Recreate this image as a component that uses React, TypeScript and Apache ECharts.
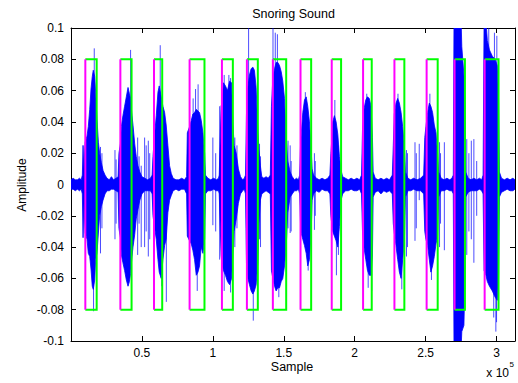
import React, { useEffect, useRef } from "react";
import * as echarts from "echarts";

// Signal envelope: [sample (x1e5), upper amplitude, lower amplitude]
const ENVELOPE: [number, number, number][] = [
  [0.000, 0.003, -0.003], [0.015, 0.004, -0.003], [0.030, 0.003, -0.004], [0.045, 0.003, -0.003],
  [0.060, 0.004, -0.004], [0.072, 0.003, -0.003],
  // burst 1
  [0.080, 0.006, -0.006], [0.085, 0.025, -0.034], [0.090, 0.010, -0.012], [0.100, 0.027, -0.031],
  [0.113, 0.031, -0.035], [0.122, 0.037, -0.044], [0.132, 0.048, -0.046], [0.141, 0.061, -0.054],
  [0.150, 0.069, -0.065], [0.157, 0.073, -0.067], [0.167, 0.069, -0.061], [0.174, 0.059, -0.048],
  [0.183, 0.042, -0.044], [0.193, 0.027, -0.031], [0.202, 0.020, -0.020], [0.214, 0.014, -0.014],
  [0.226, 0.009, -0.010], [0.240, 0.006, -0.006], [0.254, 0.004, -0.004],
  [0.270, 0.003, -0.004], [0.285, 0.005, -0.003], [0.300, 0.003, -0.003], [0.318, 0.004, -0.004],
  // burst 2
  [0.332, 0.005, -0.005], [0.338, 0.020, -0.028], [0.348, 0.026, -0.034], [0.355, 0.037, -0.045],
  [0.366, 0.044, -0.050], [0.378, 0.050, -0.055], [0.390, 0.056, -0.061], [0.402, 0.062, -0.065],
  [0.412, 0.058, -0.062], [0.420, 0.055, -0.057], [0.428, 0.046, -0.048], [0.437, 0.038, -0.040],
  [0.449, 0.026, -0.032], [0.460, 0.018, -0.022], [0.472, 0.012, -0.016], [0.485, 0.008, -0.010],
  [0.500, 0.005, -0.006], [0.520, 0.004, -0.004], [0.540, 0.003, -0.004], [0.560, 0.004, -0.004],
  // burst 3
  [0.572, 0.006, -0.006], [0.578, 0.018, -0.020], [0.589, 0.031, -0.027], [0.601, 0.044, -0.035],
  [0.613, 0.059, -0.048], [0.622, 0.063, -0.056], [0.636, 0.056, -0.060], [0.648, 0.050, -0.048],
  [0.660, 0.046, -0.039], [0.671, 0.038, -0.035], [0.683, 0.025, -0.018], [0.695, 0.012, -0.010],
  [0.707, 0.007, -0.007], [0.720, 0.004, -0.004],
  [0.740, 0.003, -0.003], [0.760, 0.003, -0.004], [0.780, 0.004, -0.003], [0.800, 0.003, -0.003],
  // burst 4
  [0.815, 0.005, -0.006], [0.820, 0.033, -0.033], [0.836, 0.037, -0.036], [0.848, 0.041, -0.038],
  [0.859, 0.045, -0.042], [0.871, 0.046, -0.048], [0.883, 0.048, -0.058], [0.895, 0.047, -0.056],
  [0.906, 0.046, -0.052], [0.918, 0.041, -0.040], [0.930, 0.033, -0.044], [0.942, 0.020, -0.035],
  [0.948, 0.006, -0.006],
  [0.965, 0.004, -0.004], [0.985, 0.003, -0.004], [1.005, 0.004, -0.003], [1.025, 0.003, -0.004],
  [1.040, 0.004, -0.004],
  // burst 5
  [1.045, 0.006, -0.006], [1.058, 0.050, -0.045], [1.064, 0.052, -0.050], [1.075, 0.065, -0.055],
  [1.089, 0.063, -0.058], [1.103, 0.060, -0.062], [1.118, 0.066, -0.064], [1.132, 0.065, -0.060],
  [1.141, 0.040, -0.045], [1.150, 0.025, -0.030], [1.165, 0.020, -0.022], [1.180, 0.010, -0.012],
  [1.195, 0.005, -0.006],
  [1.210, 0.003, -0.004], [1.222, 0.004, -0.003],
  // burst 6
  [1.230, 0.006, -0.006], [1.237, 0.045, -0.050], [1.247, 0.062, -0.060], [1.258, 0.070, -0.064],
  [1.270, 0.074, -0.068], [1.282, 0.075, -0.070], [1.293, 0.073, -0.068], [1.305, 0.062, -0.064],
  [1.317, 0.035, -0.050], [1.325, 0.022, -0.025], [1.335, 0.012, -0.010], [1.345, 0.005, -0.006],
  [1.360, 0.004, -0.005], [1.375, 0.005, -0.004], [1.390, 0.004, -0.005],
  // burst 7
  [1.405, 0.006, -0.006], [1.413, 0.050, -0.055], [1.423, 0.068, -0.060], [1.435, 0.074, -0.065],
  [1.446, 0.078, -0.068], [1.458, 0.078, -0.066], [1.470, 0.076, -0.066], [1.482, 0.072, -0.062],
  [1.493, 0.066, -0.060], [1.505, 0.055, -0.052], [1.517, 0.030, -0.040], [1.528, 0.015, -0.018],
  [1.545, 0.008, -0.008], [1.560, 0.005, -0.006],
  [1.575, 0.003, -0.004], [1.590, 0.004, -0.004], [1.603, 0.003, -0.003],
  // burst 8
  [1.612, 0.006, -0.006], [1.618, 0.025, -0.025], [1.622, 0.031, -0.031], [1.634, 0.046, -0.035],
  [1.646, 0.054, -0.039], [1.658, 0.056, -0.044], [1.669, 0.050, -0.052], [1.681, 0.040, -0.048],
  [1.693, 0.022, -0.031], [1.700, 0.010, -0.010], [1.710, 0.006, -0.006],
  [1.730, 0.004, -0.004], [1.750, 0.003, -0.005], [1.770, 0.004, -0.003], [1.790, 0.003, -0.004],
  [1.810, 0.004, -0.004],
  // burst 9
  [1.825, 0.006, -0.006], [1.832, 0.020, -0.020], [1.838, 0.028, -0.025], [1.845, 0.040, -0.030],
  [1.857, 0.044, -0.033], [1.869, 0.040, -0.036], [1.881, 0.032, -0.040], [1.892, 0.018, -0.027],
  [1.904, 0.009, -0.010], [1.915, 0.005, -0.006],
  [1.935, 0.004, -0.004], [1.955, 0.003, -0.004], [1.975, 0.004, -0.003], [1.995, 0.003, -0.004],
  [2.015, 0.004, -0.004], [2.035, 0.003, -0.003],
  // burst 10
  [2.048, 0.006, -0.006], [2.055, 0.035, -0.030], [2.065, 0.048, -0.040], [2.078, 0.054, -0.048],
  [2.090, 0.056, -0.055], [2.103, 0.055, -0.058], [2.115, 0.050, -0.058], [2.125, 0.030, -0.045],
  [2.130, 0.008, -0.008],
  [2.145, 0.004, -0.005], [2.165, 0.003, -0.004], [2.185, 0.004, -0.006], [2.205, 0.003, -0.004],
  [2.225, 0.004, -0.005], [2.245, 0.003, -0.004],
  // burst 11
  [2.265, 0.006, -0.006], [2.272, 0.025, -0.025], [2.279, 0.045, -0.031], [2.291, 0.052, -0.039],
  [2.303, 0.055, -0.048], [2.315, 0.052, -0.056], [2.327, 0.046, -0.060], [2.338, 0.037, -0.048],
  [2.350, 0.025, -0.037], [2.358, 0.008, -0.008],
  [2.375, 0.004, -0.004], [2.395, 0.003, -0.004], [2.415, 0.004, -0.003], [2.440, 0.003, -0.004],
  [2.465, 0.004, -0.004],
  // burst 12
  [2.486, 0.006, -0.006], [2.494, 0.030, -0.030], [2.502, 0.037, -0.035], [2.514, 0.046, -0.039],
  [2.526, 0.052, -0.048], [2.537, 0.050, -0.056], [2.549, 0.046, -0.052], [2.561, 0.038, -0.046],
  [2.573, 0.033, -0.038], [2.584, 0.020, -0.033], [2.592, 0.008, -0.008],
  [2.610, 0.004, -0.004], [2.630, 0.003, -0.004], [2.650, 0.004, -0.003], [2.670, 0.003, -0.004],
  [2.685, 0.004, -0.004],
  // burst 13
  [2.695, 0.006, -0.006], [2.700, 0.105, -0.105], [2.750, 0.105, -0.105], [2.755, 0.088, -0.094],
  [2.770, 0.070, -0.090], [2.777, 0.050, -0.060], [2.782, 0.008, -0.008],
  [2.800, 0.004, -0.005], [2.820, 0.003, -0.004], [2.840, 0.004, -0.004], [2.860, 0.003, -0.004],
  [2.880, 0.004, -0.003], [2.895, 0.003, -0.004],
  // burst 14
  [2.905, 0.006, -0.006], [2.912, 0.105, -0.055], [2.925, 0.105, -0.058], [2.935, 0.092, -0.062],
  [2.950, 0.086, -0.065], [2.970, 0.082, -0.068], [2.990, 0.080, -0.072], [3.005, 0.076, -0.074],
  [3.014, 0.055, -0.060], [3.020, 0.008, -0.008],
  [3.035, 0.004, -0.005], [3.055, 0.003, -0.004], [3.075, 0.004, -0.003], [3.095, 0.003, -0.004],
  [3.115, 0.004, -0.004], [3.130, 0.003, -0.003],
];

// Isolated spikes: [sample (x1e5), top, bottom]
const SPIKES: [number, number, number][] = [
  [0.159, 0, -0.081], [0.164, 0.087, 0], [0.208, 0.024, -0.044], [0.218, 0.020, -0.028],
  [0.310, 0.022, -0.035], [0.318, 0.016, -0.025],
  [0.420, 0.086, 0], [0.470, 0.030, -0.045], [0.480, 0.018, -0.025], [0.495, 0.012, -0.040],
  [0.519, 0.030, -0.040], [0.530, 0.025, -0.030], [0.545, 0.028, -0.046], [0.555, 0.020, -0.035],
  [0.629, 0.089, 0], [0.640, 0, -0.065], [0.672, 0, -0.075],
  [0.861, 0.055, 0], [0.878, 0.061, 0], [0.896, 0.064, 0], [0.890, 0, -0.068], [0.940, 0.010, -0.042],
  [1.000, 0.030, -0.026], [1.020, 0.020, -0.030], [1.048, 0.050, -0.048],
  [1.080, 0.070, -0.068], [1.113, 0.070, 0], [1.125, 0.068, -0.069], [1.155, 0.030, -0.040], [1.170, 0.025, -0.028],
  [1.252, 0.105, 0], [1.285, 0, -0.087], [1.329, 0.026, -0.035], [1.336, 0.018, -0.040],
  [1.424, 0.105, 0], [1.440, 0.097, 0], [1.455, 0.096, 0], [1.465, 0, -0.072],
  [1.530, 0.028, -0.028], [1.545, 0.025, -0.031], [1.552, 0.015, -0.030],
  [1.652, 0.059, 0], [1.672, 0, -0.055], [1.716, 0.020, -0.029], [1.722, 0.015, -0.020],
  [1.860, 0.054, 0], [1.871, 0, -0.058], [1.885, 0.025, -0.045],
  [2.085, 0.058, 0], [2.095, 0, -0.066], [2.120, 0, -0.068],
  [2.305, 0.058, 0], [2.332, 0, -0.067], [2.365, 0.022, -0.046], [2.372, 0.020, -0.040],
  [2.425, 0.027, -0.036], [2.434, 0.020, -0.028], [2.455, 0.026, -0.010],
  [2.530, 0.058, 0], [2.541, 0, -0.061], [2.598, 0.027, -0.040], [2.605, 0.020, -0.025],
  [2.632, 0.027, -0.042],
  [2.790, 0.029, -0.045], [2.805, 0.020, -0.030], [2.822, 0.028, -0.035], [2.840, 0.029, -0.050],
  [2.860, 0.015, -0.020],
  [2.945, 0.105, 0], [2.985, 0.097, 0], [3.002, 0.095, 0], [2.980, 0, -0.085], [2.995, 0, -0.094],
  [3.000, 0, -0.088],
];

// Detected snore segments (start / end, x1e5 samples)
const SEGMENT_STARTS = [0.101, 0.348, 0.585, 0.836, 1.064, 1.240, 1.423, 1.618, 1.838, 2.059, 2.280, 2.507, 2.704, 2.916];
const SEGMENT_ENDS = [0.181, 0.427, 0.643, 0.941, 1.141, 1.317, 1.517, 1.693, 1.904, 2.120, 2.350, 2.585, 2.777, 3.014];
const SEGMENT_LEVEL = 0.08;

const X_MIN = 0;
const X_MAX = 3.13;
const X_STEP = 0.5;
const Y_MIN = -0.1;
const Y_MAX = 0.1;
const Y_STEP = 0.02;

const TITLE = "Snoring Sound";
const X_NAME = "Sample";
const Y_NAME = "Amplitude";

const FONT = '"Liberation Sans", Arial, Helvetica, sans-serif';

export default function App() {
  const ref = useRef<HTMLDivElement>(null);
  useEffect(() => {
    if (!ref.current) return;
    const chart = echarts.init(ref.current, undefined, { renderer: "svg" });
    const axisColor = "#000";
    const xLabel = (v: number) => {
      if (v === 0) return "";
      const k = v / X_STEP;
      if (Math.abs(k - Math.round(k)) > 1e-6) return "";
      return String(Math.round(v * 10) / 10);
    };
    const yLabel = (v: number) => {
      const r = Math.round(v * 100) / 100;
      return String(r === 0 ? 0 : r);
    };
    const segData = SEGMENT_STARTS.map((s, i) => [s, SEGMENT_ENDS[i], SEGMENT_LEVEL]);
    const option: any = {
      animation: false,
      backgroundColor: "#ffffff",
      grid: { left: 71, top: 28, width: 445, height: 313, containLabel: false },
      xAxis: [
        {
          type: "value", min: X_MIN, max: X_MAX, interval: X_STEP, position: "bottom",
          axisLine: { show: true, onZero: false, lineStyle: { color: axisColor, width: 1 } },
          axisTick: { show: true, inside: true, length: 5, lineStyle: { color: axisColor } },
          axisLabel: { formatter: xLabel, margin: 6, color: "#000", fontSize: 12, fontFamily: FONT },
          splitLine: { show: false },
        },
        {
          type: "value", min: X_MIN, max: X_MAX, interval: X_STEP, position: "top",
          axisLine: { show: true, onZero: false, lineStyle: { color: axisColor, width: 1 } },
          axisTick: { show: true, inside: true, length: 5, lineStyle: { color: axisColor } },
          axisLabel: { show: false },
          splitLine: { show: false },
        },
      ],
      yAxis: [
        {
          type: "value", min: Y_MIN, max: Y_MAX, interval: Y_STEP, position: "left",
          axisLine: { show: true, onZero: false, lineStyle: { color: axisColor, width: 1 } },
          axisTick: { show: true, inside: true, length: 5, lineStyle: { color: axisColor } },
          axisLabel: { formatter: yLabel, margin: 7, color: "#000", fontSize: 12, fontFamily: FONT },
          splitLine: { show: false },
        },
        {
          type: "value", min: Y_MIN, max: Y_MAX, interval: Y_STEP, position: "right",
          axisLine: { show: true, onZero: false, lineStyle: { color: axisColor, width: 1 } },
          axisTick: { show: true, inside: true, length: 5, lineStyle: { color: axisColor } },
          axisLabel: { show: false },
          splitLine: { show: false },
        },
      ],
      series: [
        {
          // whole waveform envelope drawn as one filled polygon (upper edge forward, lower edge back)
          type: "custom", xAxisIndex: 0, yAxisIndex: 0, silent: true, z: 2, clip: true,
          data: ENVELOPE,
          encode: { x: 0, y: [1, 2] },
          renderItem: (params: any, api: any) => {
            if (params.dataIndex !== 0) return null;
            const pts: number[][] = [];
            for (let i = 0; i < ENVELOPE.length; i++) pts.push(api.coord([ENVELOPE[i][0], ENVELOPE[i][1]]));
            for (let i = ENVELOPE.length - 1; i >= 0; i--) pts.push(api.coord([ENVELOPE[i][0], ENVELOPE[i][2]]));
            return {
              type: "polygon",
              shape: { points: pts },
              style: { fill: "#0000ff", stroke: "#0000ff", lineWidth: 0.8 },
            };
          },
        },
        {
          type: "custom", xAxisIndex: 0, yAxisIndex: 0, silent: true, z: 3, clip: true,
          data: SPIKES,
          encode: { x: 0, y: [1, 2] },
          renderItem: (_p: any, api: any) => {
            const x = api.value(0);
            const a = api.coord([x, api.value(1)]);
            const b = api.coord([x, api.value(2)]);
            return {
              type: "line",
              shape: { x1: a[0], y1: a[1], x2: b[0], y2: b[1] },
              style: { stroke: "rgba(0,0,255,0.7)", lineWidth: 1 },
            };
          },
        },
        {
          type: "custom", xAxisIndex: 0, yAxisIndex: 0, silent: true, z: 4, clip: true,
          data: segData,
          encode: { x: [0, 1], y: 2 },
          renderItem: (_p: any, api: any) => {
            const s = api.value(0);
            const e = api.value(1);
            const lv = api.value(2);
            const tl = api.coord([s, lv]);
            const tr = api.coord([e, lv]);
            const br = api.coord([e, -lv]);
            const bl = api.coord([s, -lv]);
            return {
              type: "group",
              children: [
                {
                  type: "polyline",
                  shape: { points: [tl, tr, br, bl] },
                  style: { stroke: "#00ff00", lineWidth: 2, fill: null },
                },
                {
                  type: "line",
                  shape: { x1: bl[0], y1: bl[1], x2: tl[0], y2: tl[1] },
                  style: { stroke: "#ff00ff", lineWidth: 2 },
                },
              ],
            };
          },
        },
      ],
      graphic: [
        {
          type: "text", x: 293.5, y: 14, silent: true,
          style: { text: TITLE, fill: "#000", font: `12.5px ${FONT}`, textAlign: "center", textVerticalAlign: "middle" },
        },
        {
          type: "text", x: 292, y: 367, silent: true,
          style: { text: X_NAME, fill: "#000", font: `12.5px ${FONT}`, textAlign: "center", textVerticalAlign: "middle" },
        },
        {
          type: "text", x: 22, y: 185, rotation: Math.PI / 2, silent: true,
          style: { text: Y_NAME, fill: "#000", font: `12px ${FONT}`, textAlign: "center", textVerticalAlign: "middle" },
        },
        {
          type: "text", x: 509, y: 373, silent: true,
          style: { text: "x 10", fill: "#000", font: `12px ${FONT}`, textAlign: "right", textVerticalAlign: "middle" },
        },
        {
          type: "text", x: 509.5, y: 364, silent: true,
          style: { text: "5", fill: "#000", font: `8px ${FONT}`, textAlign: "left", textVerticalAlign: "middle" },
        },
      ],
    };
    chart.setOption(option);
    return () => chart.dispose();
  }, []);
  return (
    <div
      ref={ref}
      style={{ position: "fixed", left: 0, top: 0, width: 518, height: 383, background: "#fff" }}
    />
  );
}
